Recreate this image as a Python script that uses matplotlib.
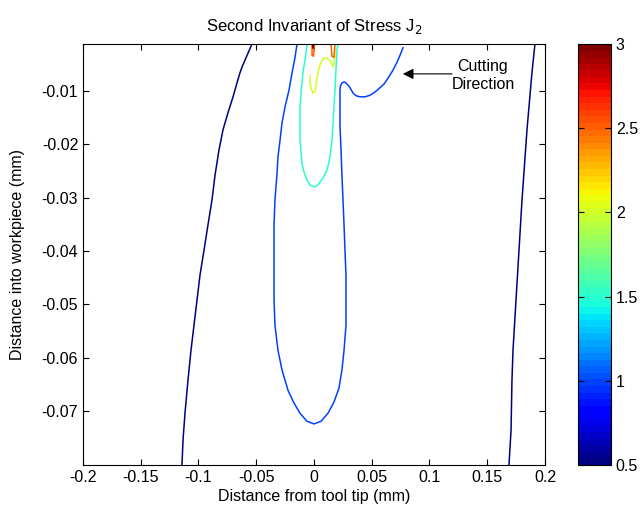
import numpy as np
import matplotlib
matplotlib.use('Agg')
import matplotlib.pyplot as plt
from matplotlib.colors import ListedColormap, Normalize
from matplotlib.cm import ScalarMappable

plt.rcParams['font.family'] = ['Liberation Sans', 'DejaVu Sans']
plt.rcParams['axes.unicode_minus'] = False

# J2 contour levels and their traced lines (x in mm from tool tip, y in mm into workpiece)
levels = [0.5, 0.5, 1.0, 1.5, 2.0, 2.5, 2.5, 3.0]

outer_left_x = [-0.0537, -0.0571, -0.0597, -0.0623, -0.0641, -0.0675, -0.0701, -0.0745,
                -0.0788, -0.0823, -0.0857, -0.0883, -0.0918, -0.0952, -0.0987, -0.1013,
                -0.1039, -0.1065, -0.1091, -0.1117, -0.1134, -0.1143]
outer_left_y = [-0.0012, -0.0029, -0.0042, -0.0055, -0.0066, -0.0091, -0.0111, -0.0141,
                -0.0173, -0.0211, -0.0258, -0.0304, -0.0351, -0.0398, -0.0445, -0.0492,
                -0.0539, -0.0586, -0.0642, -0.0704, -0.0754, -0.0801]

outer_right_x = [0.1913, 0.1887, 0.1844, 0.1801, 0.1775, 0.1749, 0.1723,
                 0.1714, 0.1706, 0.1688]
outer_right_y = [-0.0012, -0.0066, -0.0173, -0.0304, -0.0398, -0.0492, -0.0586,
                 -0.0642, -0.0736, -0.0801]

j2_1_x = [-0.0147, -0.0165, -0.0190, -0.0216, -0.0251, -0.0277, -0.0294, -0.0312,
          -0.0320, -0.0338, -0.0346, -0.0346, -0.0346, -0.0346, -0.0338, -0.0312,
          -0.0277, -0.0225, -0.0173, -0.0121, -0.0061, 0.0, 0.0061, 0.0121, 0.0173,
          0.0216, 0.0242, 0.0260, 0.0277, 0.0277, 0.0277, 0.0268, 0.0260, 0.0251,
          0.0242, 0.0234, 0.0225, 0.0225, 0.0225, 0.0229, 0.0242, 0.0260, 0.0277,
          0.0294, 0.0312, 0.0338, 0.0364, 0.0398, 0.0442, 0.0485, 0.0528, 0.0571,
          0.0606, 0.0632, 0.0658, 0.0684, 0.0719, 0.0745, 0.0771]
j2_1_y = [-0.0012, -0.0038, -0.0066, -0.0098, -0.0130, -0.0160, -0.0192, -0.0224,
          -0.0254, -0.0304, -0.0351, -0.0398, -0.0445, -0.0492, -0.0539, -0.0586,
          -0.0623, -0.0661, -0.0685, -0.0704, -0.0719, -0.0724, -0.0719, -0.0704,
          -0.0683, -0.0657, -0.0623, -0.0586, -0.0539, -0.0492, -0.0445, -0.0398,
          -0.0351, -0.0304, -0.0258, -0.0211, -0.0164, -0.0117, -0.0098, -0.0091,
          -0.0085, -0.0083, -0.0085, -0.0089, -0.0094, -0.0104, -0.0109, -0.0111,
          -0.0111, -0.0108, -0.0102, -0.0094, -0.0087, -0.0079, -0.0070, -0.0061,
          -0.0046, -0.0033, -0.0019]

j2_15_x = [-0.0061, -0.0069, -0.0078, -0.0095, -0.0104, -0.0113, -0.0121, -0.0121,
           -0.0121, -0.0113, -0.0104, -0.0087, -0.0061, -0.0035, 0.0, 0.0035, 0.0078,
           0.0113, 0.0139, 0.0156, 0.0165, 0.0173, 0.0182, 0.0190, 0.0199, 0.0208]
j2_15_y = [-0.0012, -0.0027, -0.0042, -0.0064, -0.0085, -0.0108, -0.0130, -0.0164,
           -0.0192, -0.0214, -0.0235, -0.0252, -0.0267, -0.0276, -0.0280, -0.0276,
           -0.0263, -0.0248, -0.0224, -0.0192, -0.0160, -0.0130, -0.0098, -0.0061,
           -0.0023, -0.0012]

j2_2_x = [-0.0035, -0.0035, -0.0026, -0.0009, 0.0009, 0.0017, 0.0026, 0.0043, 0.0061,
          0.0087, 0.0113, 0.0139, 0.0156, 0.0165, 0.0173, 0.0182, 0.0182]
j2_2_y = [-0.0072, -0.0083, -0.0094, -0.0104, -0.0100, -0.0091, -0.0076, -0.0057,
          -0.0046, -0.0038, -0.0038, -0.0044, -0.0051, -0.0055, -0.0047, -0.0036,
          -0.0023]

j2_25a_x = [-0.0017, -0.0017, -0.0004, 0.0004]
j2_25a_y = [-0.0012, -0.0033, -0.0035, -0.0012]
j2_25b_x = [0.0147, 0.0156, 0.0173, 0.0182]
j2_25b_y = [-0.0012, -0.0035, -0.0037, -0.0012]

j2_3_x = [-0.0013, -0.0009, -0.0004]
j2_3_y = [-0.0012, -0.0020, -0.0012]

lines_x = [outer_left_x, outer_right_x, j2_1_x, j2_15_x, j2_2_x, j2_25a_x, j2_25b_x, j2_3_x]
lines_y = [outer_left_y, outer_right_y, j2_1_y, j2_15_y, j2_2_y, j2_25a_y, j2_25b_y, j2_3_y]

cmap = ListedColormap(plt.get_cmap('jet')(np.linspace(0, 1, 64)))
norm = Normalize(vmin=0.5, vmax=3.0)

fig = plt.figure(figsize=(6.43, 5.12), dpi=100)
ax = fig.add_axes([83 / 643, 47 / 512, 462 / 643, 421 / 512])
cax = fig.add_axes([578 / 643, 47 / 512, 33 / 643, 421 / 512])

for lev, xs, ys in zip(levels, lines_x, lines_y):
    ax.plot(xs, ys, color=cmap(norm(lev)), linewidth=1.1)

fs = 11.5
ax.set_xlim(-0.2, 0.2)
ax.set_ylim(-0.0801, -0.0012)
ax.set_xticks(np.arange(-0.2, 0.201, 0.05))
ax.set_xticklabels(['-0.2', '-0.15', '-0.1', '-0.05', '0', '0.05', '0.1', '0.15', '0.2'])
ax.set_yticks(np.arange(-0.07, -0.009, 0.01))
ax.set_yticklabels(['-0.07', '-0.06', '-0.05', '-0.04', '-0.03', '-0.02', '-0.01'])
ax.tick_params(direction='in', top=True, right=True, labelsize=fs, length=4)
ax.set_xlabel('Distance from tool tip (mm)', fontsize=fs, labelpad=3)
ax.set_ylabel('Distance into workpiece (mm)', fontsize=fs, labelpad=12)
ax.set_title('Second Invariant of Stress J$_2$', fontsize=12, pad=9)

ax.annotate('', xy=(0.0745, -0.0068), xytext=(0.122, -0.0068),
            arrowprops=dict(arrowstyle='-|>', color='black', lw=0.8,
                            mutation_scale=16))
ax.text(0.1463, -0.0071, 'Cutting\nDirection', ha='center', va='center',
        fontsize=fs, linespacing=1.3)

sm = ScalarMappable(norm=norm, cmap=cmap)
cb = fig.colorbar(sm, cax=cax)
cb.set_ticks([0.5, 1, 1.5, 2, 2.5, 3])
cb.set_ticklabels(['0.5', '1', '1.5', '2', '2.5', '3'])
cax.tick_params(direction='in', left=True, right=True, labelsize=fs, length=4)
cb.outline.set_linewidth(0.8)

fig.savefig('out.png', dpi=100)
